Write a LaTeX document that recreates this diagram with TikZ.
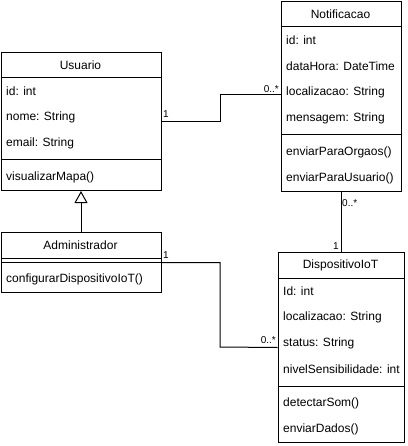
\documentclass[tikz,border=0pt]{standalone}
\usepackage{fontspec}
\setmainfont{Liberation Sans}
\usetikzlibrary{calc,arrows.meta}

\begin{document}
\begin{tikzpicture}[x=1pt,y=-1pt,
  classbox/.style={draw=black, line width=1pt, fill=white, rectangle, inner sep=0pt, anchor=north west},
  sepline/.style={draw=black, line width=1pt},
  ctitle/.style={inner sep=0pt, font=\fontsize{12}{14}\selectfont},
  member/.style={inner sep=0pt, anchor=west, font=\fontsize{12}{14}\selectfont},
  mult/.style={inner sep=1pt, font=\fontsize{10}{12}\selectfont},
  link/.style={draw=black, line width=1pt},
  inherit/.style={draw=black, line width=1pt, -{Triangle[open, length=12pt, width=13pt]}}]

  \useasboundingbox (0,0) rectangle (407,446);

  % Usuario
  \node[classbox, minimum width=160pt, minimum height=138pt] (usuario) at (0.5,52) {};
  \draw[sepline] (0.5,78) -- (160.5,78);
  \draw[sepline] (0.5,160) -- (160.5,160);
  \node[ctitle] (usuarioT) at (80.5,65) {Usuario};
  \node[member] (usuarioA1) at (6,91) {id: int};
  \node[member] (usuarioA2) at (6,117) {nome: String};
  \node[member] (usuarioA3) at (6,143) {email: String};
  \node[member] (usuarioM1) at (6,177) {visualizarMapa()};

  % Administrador
  \node[classbox, minimum width=160pt, minimum height=60pt] (admin) at (0.5,232) {};
  \draw[sepline] (0.5,258) -- (160.5,258);
  \draw[sepline] (0.5,262) -- (160.5,262);
  \node[ctitle] (adminT) at (80.5,245) {Administrador};
  \node[member] (adminM1) at (6,279) {configurarDispositivoIoT()};

  % Notificacao
  \node[classbox, minimum width=120pt, minimum height=190pt] (notif) at (280.5,1) {};
  \draw[sepline] (280.5,27) -- (400.5,27);
  \draw[sepline] (280.5,135) -- (400.5,135);
  \node[ctitle] (notifT) at (340.5,14) {Notificacao};
  \node[member] (notifA1) at (286,40) {id: int};
  \node[member] (notifA2) at (286,66) {dataHora: DateTime};
  \node[member] (notifA3) at (286,92) {localizacao: String};
  \node[member] (notifA4) at (286,118) {mensagem: String};
  \node[member] (notifM1) at (286,152) {enviarParaOrgaos()};
  \node[member] (notifM2) at (286,178) {enviarParaUsuario()};

  % DispositivoIoT
  \node[classbox, minimum width=126pt, minimum height=190pt] (disp) at (277.5,252) {};
  \draw[sepline] (277.5,278) -- (403.5,278);
  \draw[sepline] (277.5,386) -- (403.5,386);
  \node[ctitle] (dispT) at (340.5,265) {DispositivoIoT};
  \node[member] (dispA1) at (283,291) {Id: int};
  \node[member] (dispA2) at (283,317) {localizacao: String};
  \node[member] (dispA3) at (283,343) {status: String};
  \node[member] (dispA4) at (283,369) {nivelSensibilidade: int};
  \node[member] (dispM1) at (283,403) {detectarSom()};
  \node[member] (dispM2) at (283,429) {enviarDados()};

  % Generalization Administrador -> Usuario
  \draw[inherit] (admin.north) -- (usuario.south);

  % Usuario 1 -- 0..* Notificacao
  \coordinate (bendA) at (220,95);
  \draw[link] (usuario.east) -| (bendA) -- (notif.west |- bendA);
  \node[mult, anchor=south west] (mUsu) at ($(usuario.east)+(0.5,-3)$) {1};
  \node[mult, anchor=south east] (mNotif) at (280,94) {0..*};

  % Administrador 1 -- 0..* DispositivoIoT
  \coordinate (bendB) at (220,347);
  \draw[link] (admin.east) -| (bendB) -- (disp.west);
  \node[mult, anchor=south west] (mAdm) at ($(admin.east)+(0.5,-3)$) {1};
  \node[mult, anchor=south east] (mDisp) at (277,345) {0..*};

  % Notificacao 0..* -- 1 DispositivoIoT
  \draw[link] (notif.south) -- (notif.south |- disp.north);
  \node[mult, anchor=north west] (mNotif2) at (341,198) {0..*};
  \node[mult, anchor=south east] (mDisp2) at (340,251) {1};
\end{tikzpicture}
\end{document}
